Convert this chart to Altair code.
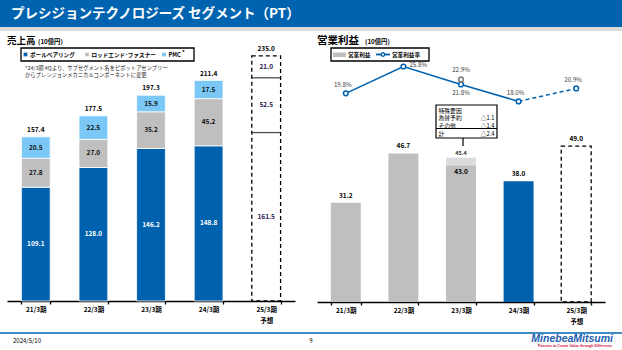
import altair as alt
import pandas as pd

# ---------------- data ----------------
cats = ["21/3期", "22/3期", "23/3期", "24/3期", "25/3期"]
seg_names = ["ボールベアリング", "ロッドエンド･ファスナー", "PMC"]
ball = [109.1, 128.0, 146.2, 148.8, 161.5]
rod = [27.8, 27.0, 35.2, 45.2, 52.5]
pmc = [20.5, 22.5, 15.9, 17.5, 21.0]
sales_total = [157.4, 177.5, 197.3, 211.4, 235.0]

op_income = [31.2, 46.7, 43.0, 38.0, 49.0]
op_income_adj_23 = 45.4
op_margin = [19.8, 25.8, 21.8, 18.0, 20.9]
op_margin_adj_23 = 22.9
special_items = ["為替予約", "その他", "計"]
special_values = ["△1.1", "△1.4", "△2.4"]

# ---------------- style ----------------
JP = "Noto Sans CJK JP"
BLUE = "#0062AE"
GRAY = "#BFBFBF"
LBLUE = "#7BC8F6"
HATCH = "#DCDCDC"
seg_colors = [BLUE, GRAY, LBLUE]
seg_label_colors = ["#FFFFFF", "#111111", "#111111"]

# ---------------- tables ----------------
rows = []
for i, c in enumerate(cats[:4]):
    start = 0.0
    for s, vals in enumerate([ball, rod, pmc]):
        v = vals[i]
        rows.append(dict(cat=c, seg=seg_names[s], v=v, y0=start, y1=start + v,
                         mid=start + v / 2, lab=f"{v:.1f}", lc=seg_label_colors[s]))
        start += v
sales_df = pd.DataFrame(rows)
tot_df = pd.DataFrame(dict(cat=cats, total=sales_total, lab=[f"{t:.1f}" for t in sales_total]))

f_rows = []
start = 0.0
for vals in [ball, rod, pmc]:
    v = vals[4]
    f_rows.append(dict(cat=cats[4], y0=start, y1=start + v, mid=start + v / 2, lab=f"{v:.1f}"))
    start += v
fc_df = pd.DataFrame(f_rows)
fc_bounds = fc_df.iloc[:2]

op_colors = [GRAY, GRAY, GRAY, BLUE]
op_df = pd.DataFrame(dict(cat=cats[:4], v=op_income[:4], col=op_colors,
                          lab=[f"{v:.1f}" for v in op_income[:4]]))
op_fc = pd.DataFrame(dict(cat=[cats[4]], v=[op_income[4]], lab=[f"{op_income[4]:.1f}"]))
hatch_df = pd.DataFrame(dict(cat=[cats[2]], a=[op_income[2]], b=[op_income_adj_23],
                             lab=[f"{op_income_adj_23:.1f}"]))
mg_df = pd.DataFrame(dict(cat=cats, m=op_margin, lab=[f"{m:.1f}%" for m in op_margin]))
mg_adj = pd.DataFrame(dict(cat=[cats[2]], m=[op_margin_adj_23], lab=[f"{op_margin_adj_23:.1f}%"]))

one = pd.DataFrame({"k": [0]})

# ---------------- scales ----------------
LX = alt.Scale(domain=cats, range=[7, 295], paddingInner=0.5, paddingOuter=0.25)
LY = alt.Scale(domain=[0, 250], range=[301, 40.25])
RX = alt.Scale(domain=cats, range=[317, 605], paddingInner=0.48, paddingOuter=0.24)
RY = alt.Scale(domain=[0, 60], range=[302, 111.2])
MY = alt.Scale(domain=[0, 30], range=[182, 47.7])

label_expr = "datum.value == '25/3期' ? ['25/3期', '予想'] : datum.value"


def cat_axis(offset):
    return alt.Axis(orient="bottom", offset=offset, title=None, domainColor="#000000",
                    domainWidth=1.3, tickColor="#000000", tickWidth=1.3, tickSize=3,
                    tickBand="extent", labelFont=JP, labelFontSize=6.5, labelFontWeight="bold",
                    labelColor="#000000", labelPadding=2, labelLineHeight=11,
                    labelExpr=label_expr, labelAngle=0)


def lx(axis=None):
    return alt.X("cat:N", scale=LX, axis=axis)


def rx(axis=None):
    return alt.X("cat:N", scale=RX, axis=axis)


def txt(size=6.5, color="#000000", weight="bold", **kw):
    return dict(font=JP, fontSize=size, color=color, fontWeight=weight, **kw)


layers = []

# ---------- decorations: header ----------
layers.append(alt.Chart(one).mark_rect(color="#0063AF").encode(
    x=alt.value(0), x2=alt.value(622), y=alt.value(0), y2=alt.value(27)))
layers.append(alt.Chart(one).mark_rect(color="#D9D9D9").encode(
    x=alt.value(0), x2=alt.value(622), y=alt.value(27), y2=alt.value(31)))
layers.append(alt.Chart(one).mark_text(align="left", baseline="middle",
                                       **txt(13.5, "#FFFFFF")).encode(
    x=alt.value(11), y=alt.value(14), text=alt.value("プレシジョンテクノロジーズ セグメント（PT）")))

# section titles
layers.append(alt.Chart(one).mark_text(align="left", baseline="middle", **txt(9.5)).encode(
    x=alt.value(7), y=alt.value(41), text=alt.value("売上高")))
layers.append(alt.Chart(one).mark_text(align="left", baseline="middle", **txt(6.3)).encode(
    x=alt.value(38), y=alt.value(42), text=alt.value("(10億円)")))
layers.append(alt.Chart(one).mark_text(align="left", baseline="middle", **txt(10.5)).encode(
    x=alt.value(317), y=alt.value(41), text=alt.value("営業利益")))
layers.append(alt.Chart(one).mark_text(align="left", baseline="middle", **txt(6.3)).encode(
    x=alt.value(365), y=alt.value(42), text=alt.value("(10億円)")))

# ---------- left legend ----------
layers.append(alt.Chart(one).mark_rect(fill="#FFFFFF", stroke="#000000", strokeWidth=1.3).encode(
    x=alt.value(21), x2=alt.value(194), y=alt.value(48), y2=alt.value(61)))
leg_x = [25.5, 87, 164]
for i, s in enumerate(seg_names):
    layers.append(alt.Chart(one).mark_square(size=14, color=seg_colors[i], opacity=1).encode(
        x=alt.value(leg_x[i]), y=alt.value(54.5)))
    layers.append(alt.Chart(one).mark_text(align="left", baseline="middle", **txt(5.6)).encode(
        x=alt.value(leg_x[i] + 4.5), y=alt.value(54.8), text=alt.value(s)))
layers.append(alt.Chart(one).mark_text(align="left", baseline="middle", **txt(5.5)).encode(
    x=alt.value(182), y=alt.value(51.5), text=alt.value("*")))
layers.append(alt.Chart(one).mark_text(align="left", baseline="middle", lineHeight=7.5,
                                       **txt(5.3, "#222222", "normal")).encode(
    x=alt.value(25), y=alt.value(67.5),
    text=alt.value(["*24/3期 4Qより、サブセグメント名をピボットアセンブリー",
                    " からプレシジョンメカニカルコンポーネントに変更"])))

# ---------- right legend ----------
layers.append(alt.Chart(one).mark_rect(fill="#FFFFFF", stroke="#000000", strokeWidth=1.3).encode(
    x=alt.value(331), x2=alt.value(429), y=alt.value(48), y2=alt.value(61)))
layers.append(alt.Chart(one).mark_rect(color=GRAY).encode(
    x=alt.value(333), x2=alt.value(346), y=alt.value(52.5), y2=alt.value(57)))
layers.append(alt.Chart(one).mark_text(align="left", baseline="middle", **txt(5.6)).encode(
    x=alt.value(348), y=alt.value(54.8), text=alt.value("営業利益")))
layers.append(alt.Chart(one).mark_rule(color=BLUE, strokeWidth=1.8).encode(
    x=alt.value(376), x2=alt.value(390), y=alt.value(54.5)))
layers.append(alt.Chart(one).mark_point(size=12, fill="#FFFFFF", filled=True, stroke=BLUE,
                                        strokeWidth=1.3, opacity=1).encode(
    x=alt.value(383), y=alt.value(54.5)))
layers.append(alt.Chart(one).mark_text(align="left", baseline="middle", **txt(5.6)).encode(
    x=alt.value(392), y=alt.value(54.8), text=alt.value("営業利益率")))

# ---------- left chart: sales ----------
layers.append(alt.Chart(sales_df).mark_bar(stroke="#FFFFFF", strokeWidth=0.8).encode(
    x=lx(cat_axis(-49)),
    y=alt.Y("y0:Q", scale=LY, axis=None), y2="y1:Q",
    color=alt.Color("seg:N", scale=alt.Scale(domain=seg_names, range=seg_colors), legend=None)))
layers.append(alt.Chart(pd.DataFrame(dict(cat=[cats[4]], a=[0.0], b=[sales_total[4]]))).mark_bar(
    fill="#FFFFFF", fillOpacity=0, stroke="#000000", strokeWidth=1.3, strokeDash=[4, 3]).encode(
    x=lx(), y=alt.Y("a:Q", scale=LY, axis=None), y2="b:Q"))
layers.append(alt.Chart(fc_bounds).mark_tick(color="#000000", thickness=1.3, size=28.8,
                                              orient="horizontal").encode(
    x=lx(), y=alt.Y("y1:Q", scale=LY, axis=None)))
layers.append(alt.Chart(sales_df).mark_text(baseline="middle", **txt(6.5)).encode(
    x=lx(), y=alt.Y("mid:Q", scale=LY, axis=None), text="lab:N",
    color=alt.Color("lc:N", scale=None)))
layers.append(alt.Chart(fc_df).mark_text(baseline="middle", **txt(6.5, "#1F1A4F")).encode(
    x=lx(), y=alt.Y("mid:Q", scale=LY, axis=None), text="lab:N"))
layers.append(alt.Chart(tot_df).mark_text(baseline="middle", dy=-7, **txt(6.5)).encode(
    x=lx(), y=alt.Y("total:Q", scale=LY, axis=None), text="lab:N"))

# ---------- right chart: operating income ----------
layers.append(alt.Chart(op_df).mark_bar().encode(
    x=rx(cat_axis(-48)),
    y=alt.Y("v:Q", scale=RY, axis=None), y2=alt.datum(0),
    color=alt.Color("col:N", scale=None)))
layers.append(alt.Chart(hatch_df).mark_bar(color=HATCH).encode(
    x=rx(), y=alt.Y("a:Q", scale=RY, axis=None), y2="b:Q"))
layers.append(alt.Chart(op_fc).mark_bar(fill="#FFFFFF", fillOpacity=0, stroke="#000000",
                                        strokeWidth=1.3, strokeDash=[4, 3]).encode(
    x=rx(), y=alt.Y("v:Q", scale=RY, axis=None), y2=alt.datum(0)))
layers.append(alt.Chart(op_df[op_df.cat != cats[2]]).mark_text(baseline="middle", dy=-7,
                                                                **txt(6.5)).encode(
    x=rx(), y=alt.Y("v:Q", scale=RY, axis=None), text="lab:N"))
layers.append(alt.Chart(op_df[op_df.cat == cats[2]]).mark_text(baseline="middle", dy=7,
                                                                **txt(6.5)).encode(
    x=rx(), y=alt.Y("v:Q", scale=RY, axis=None), text="lab:N"))
layers.append(alt.Chart(op_fc).mark_text(baseline="middle", dy=-7, **txt(6.5)).encode(
    x=rx(), y=alt.Y("v:Q", scale=RY, axis=None), text="lab:N"))
layers.append(alt.Chart(hatch_df).mark_text(baseline="middle", dy=-5, **txt(5.5, "#333333")).encode(
    x=rx(), y=alt.Y("b:Q", scale=RY, axis=None), text="lab:N"))

# margin line
layers.append(alt.Chart(mg_df.iloc[:4]).mark_line(color=BLUE, strokeWidth=1.5).encode(
    x=rx(), y=alt.Y("m:Q", scale=MY, axis=None)))
layers.append(alt.Chart(mg_df.iloc[3:]).mark_line(color=BLUE, strokeWidth=1.5,
                                                  strokeDash=[4, 3]).encode(
    x=rx(), y=alt.Y("m:Q", scale=MY, axis=None)))
layers.append(alt.Chart(mg_df).mark_point(size=22, filled=True, fill="#FFFFFF", stroke=BLUE,
                                          strokeWidth=1.5, opacity=1).encode(
    x=rx(), y=alt.Y("m:Q", scale=MY, axis=None)))
layers.append(alt.Chart(mg_adj).mark_point(size=22, filled=True, fill="#FFFFFF", stroke="#808080",
                                           strokeWidth=1.6, opacity=1).encode(
    x=rx(), y=alt.Y("m:Q", scale=MY, axis=None)))
mtxt = txt(6.2, "#404040", "normal")
layers.append(alt.Chart(mg_df.iloc[[0, 3, 4]]).mark_text(baseline="middle", dx=-3, dy=-8.5,
                                                          **mtxt).encode(
    x=rx(), y=alt.Y("m:Q", scale=MY, axis=None), text="lab:N"))
layers.append(alt.Chart(mg_df.iloc[[1]]).mark_text(align="left", baseline="middle", dx=6, dy=-1.5,
                                                    **mtxt).encode(
    x=rx(), y=alt.Y("m:Q", scale=MY, axis=None), text="lab:N"))
layers.append(alt.Chart(mg_df.iloc[[2]]).mark_text(baseline="middle", dy=9, **mtxt).encode(
    x=rx(), y=alt.Y("m:Q", scale=MY, axis=None), text="lab:N"))
layers.append(alt.Chart(mg_adj).mark_text(baseline="middle", dy=-9.5, **mtxt).encode(
    x=rx(), y=alt.Y("m:Q", scale=MY, axis=None), text="lab:N"))

# special factors box
layers.append(alt.Chart(one).mark_rule(color="#000000", strokeWidth=1.2).encode(
    x=alt.value(463), y=alt.value(138), y2=alt.value(146)))
layers.append(alt.Chart(one).mark_rect(fill="#FFFFFF", stroke="#000000", strokeWidth=1.2).encode(
    x=alt.value(436), x2=alt.value(497), y=alt.value(105), y2=alt.value(138)))
layers.append(alt.Chart(one).mark_rule(color="#000000", strokeWidth=1.1).encode(
    x=alt.value(436), x2=alt.value(497), y=alt.value(128.5)))
layers.append(alt.Chart(one).mark_text(align="left", baseline="middle", lineHeight=7.7,
                                       **txt(5.8, "#000000", "normal")).encode(
    x=alt.value(438.5), y=alt.value(110.5), text=alt.value(["特殊要因"] + special_items)))
layers.append(alt.Chart(one).mark_text(align="right", baseline="middle", lineHeight=7.7,
                                       **txt(5.8, "#000000", "normal")).encode(
    x=alt.value(494.5), y=alt.value(110.5), text=alt.value([" "] + special_values)))

# ---------- footer ----------
layers.append(alt.Chart(one).mark_rule(color="#0063AF", strokeWidth=1.3).encode(
    x=alt.value(0), x2=alt.value(622), y=alt.value(333)))
layers.append(alt.Chart(one).mark_text(align="left", baseline="middle", **txt(6, "#000000", "normal")).encode(
    x=alt.value(13), y=alt.value(341), text=alt.value("2024/5/10")))
layers.append(alt.Chart(one).mark_text(align="center", baseline="middle", **txt(6, "#000000", "normal")).encode(
    x=alt.value(311), y=alt.value(341), text=alt.value("9")))
layers.append(alt.Chart(one).mark_text(align="right", baseline="middle", font="Liberation Sans",
                                       fontSize=10.5, fontWeight="bold", fontStyle="italic",
                                       color="#1D5DAF").encode(
    x=alt.value(613), y=alt.value(338.5), text=alt.value("MinebeaMitsumi")))
layers.append(alt.Chart(one).mark_text(align="right", baseline="middle", font="Liberation Sans",
                                       fontSize=3.6, fontWeight="bold", color="#D0103A").encode(
    x=alt.value(612), y=alt.value(345.5), text=alt.value("Passion to Create Value through Difference")))

chart = alt.layer(*layers).resolve_scale(
    x="independent", y="independent", color="independent"
).properties(
    width=622, height=350, padding=0, autosize=alt.AutoSizeParams(type="none"),
    background="#FFFFFF"
).configure_view(stroke=None)

chart.save("out.html", embed_options={"renderer": "svg", "actions": False})
